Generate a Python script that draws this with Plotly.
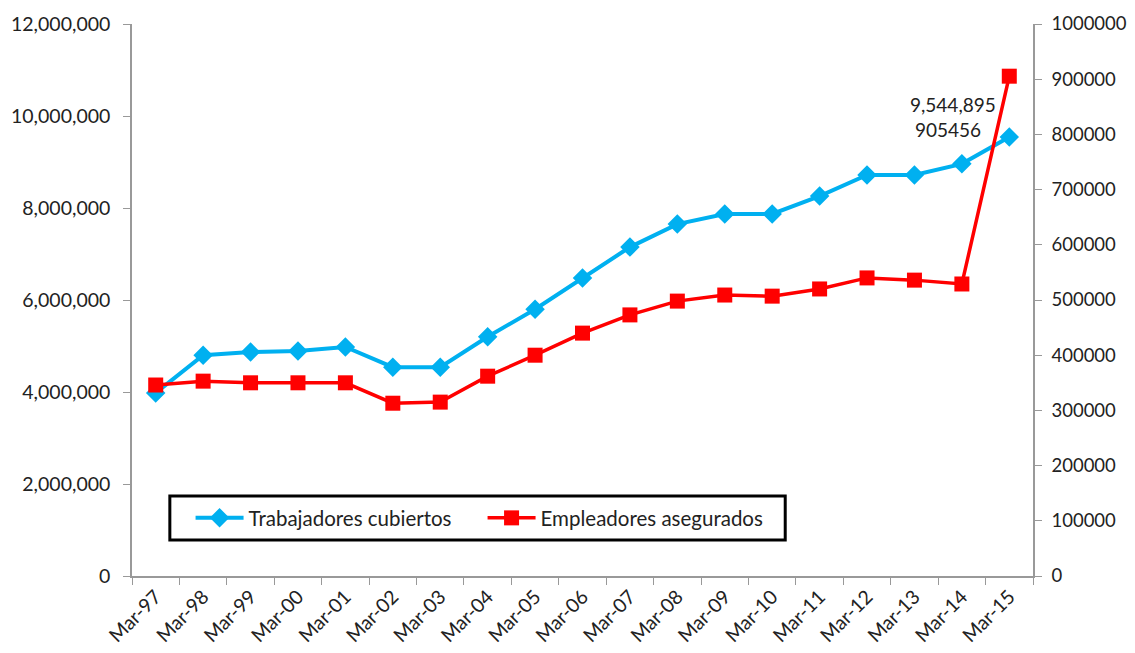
import plotly.graph_objects as go

categories = ["Mar-97","Mar-98","Mar-99","Mar-00","Mar-01","Mar-02","Mar-03","Mar-04","Mar-05","Mar-06",
              "Mar-07","Mar-08","Mar-09","Mar-10","Mar-11","Mar-12","Mar-13","Mar-14","Mar-15"]
trabajadores = [3980000, 4800000, 4870000, 4890000, 4980000, 4540000, 4540000, 5200000, 5800000, 6480000,
                7150000, 7650000, 7870000, 7870000, 8260000, 8720000, 8720000, 8960000, 9544895]
empleadores = [346000, 353000, 350000, 350000, 350000, 313000, 315000, 362000, 400000, 440000,
               473000, 498000, 509000, 507000, 520000, 540000, 536000, 529000, 905456]
left_ticks = [0, 2000000, 4000000, 6000000, 8000000, 10000000, 12000000]
right_ticks = [0, 100000, 200000, 300000, 400000, 500000, 600000, 700000, 800000, 900000, 1000000]

FONT = "Lato"
fig = go.Figure()
fig.add_trace(go.Scatter(x=categories, y=trabajadores, name="Trabajadores cubiertos", mode="lines+markers",
                         line=dict(color="#00B0F0", width=4),
                         marker=dict(symbol="diamond", size=15, color="#00B0F0"), yaxis="y"))
fig.add_trace(go.Scatter(x=categories, y=empleadores, name="Empleadores asegurados", mode="lines+markers",
                         line=dict(color="#FF0000", width=3.5),
                         marker=dict(symbol="square", size=15, color="#FF0000"), yaxis="y2"))

fig.add_annotation(x=categories[-1], y=trabajadores[-1],
                   text=f"{trabajadores[-1]:,}<br>{empleadores[-1]}  ", showarrow=False, align="center",
                   xshift=-56, yshift=20, font=dict(size=19, color="#222", family=FONT))

# legend frame
fig.add_shape(type="rect", xref="paper", yref="paper", x0=0.042, x1=0.725, y0=0.065, y1=0.145,
              line=dict(color="black", width=3), fillcolor="white", layer="above")

axis_common = dict(showgrid=False, zeroline=False, showline=True, linecolor="#999", linewidth=1.5,
                   ticks="outside", tickcolor="#999", ticklen=7, automargin=False,
                   tickfont=dict(size=19.5, color="#222", family=FONT))
fig.update_layout(
    width=1127, height=645, plot_bgcolor="white", paper_bgcolor="white",
    margin=dict(l=124, r=102, t=16, b=77),
    font=dict(family=FONT, color="#222"),
    xaxis=dict(**axis_common, type="category", tickangle=-45, tickson="boundaries", range=[-0.5, 18.5]),
    yaxis=dict(**axis_common, range=[0, 12000000], tickvals=left_ticks, tickformat=",",
               ticklabelstandoff=9),
    yaxis2=dict(showgrid=False, zeroline=False, showline=True, linecolor="#999", linewidth=1.5,
                ticks="outside", tickcolor="#999", ticklen=7, automargin=False,
                tickfont=dict(size=18.5, color="#222", family=FONT),
                range=[0, 1000000], tickvals=right_ticks, tickformat="d",
                overlaying="y", side="right", ticklabelstandoff=6),
    legend=dict(orientation="h", x=0.065, y=0.105, xanchor="left", yanchor="middle",
                borderwidth=0, bgcolor="rgba(0,0,0,0)", itemwidth=48,
                font=dict(size=20.5, color="#222", family=FONT), entrywidth=229),
    showlegend=True,
)
fig.write_html("out.html")
